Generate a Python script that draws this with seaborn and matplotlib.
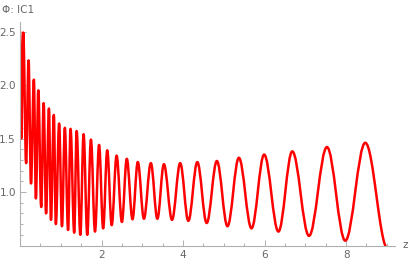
import numpy as np
import pandas as pd
import seaborn as sns
import matplotlib.pyplot as plt
from matplotlib.path import Path
from matplotlib.patches import PathPatch
from matplotlib.ticker import MultipleLocator, FixedLocator

# Extrema of the curve (alternating peak / trough)
peak_z = [0.0, 0.08, 0.21, 0.34, 0.45, 0.58, 0.71, 0.83, 0.96, 1.10, 1.24, 1.39, 1.56,
          1.74, 1.94, 2.14, 2.37, 2.62, 2.89, 3.21, 3.53, 3.93, 4.35, 4.83, 5.37, 5.99,
          6.68, 7.53, 8.47]
peak_y = [2.50, 2.49, 2.23, 2.05, 1.95, 1.83, 1.78, 1.72, 1.64, 1.60, 1.59, 1.57, 1.54,
          1.49, 1.44, 1.39, 1.34, 1.31, 1.28, 1.27, 1.26, 1.27, 1.28, 1.29, 1.32, 1.35,
          1.38, 1.42, 1.46]
trough_z = [0.03, 0.15, 0.27, 0.39, 0.52, 0.64, 0.76, 0.88, 1.03, 1.18, 1.33, 1.48, 1.65,
            1.84, 2.04, 2.25, 2.50, 2.76, 3.04, 3.37, 3.73, 4.13, 4.58, 5.09, 5.68, 6.34,
            7.09, 7.98, 9.02]
trough_y = [1.50, 1.27, 1.08, 0.94, 0.86, 0.80, 0.74, 0.70, 0.68, 0.645, 0.62, 0.60, 0.60,
            0.63, 0.66, 0.69, 0.72, 0.745, 0.75, 0.75, 0.74, 0.73, 0.71, 0.68, 0.66, 0.63,
            0.59, 0.545, 0.47]

x_major = [2, 4, 6, 8]
y_major = [1.0, 1.5, 2.0, 2.5]

sns.set_theme(style="ticks")
plt.rcParams['font.family'] = ['DejaVu Sans']

grey = "#b0b0b0"
label_grey = "#666666"

# merge into one ordered series
df = pd.DataFrame({"z": peak_z + trough_z, "phi": peak_y + trough_y}).sort_values("z")

fig = plt.figure(figsize=(4.11, 2.66), dpi=100)
ax = fig.add_axes([20 / 411, 20.5 / 266, 375 / 411, 223.5 / 266])

# smooth curve through the extrema: cubic segments with flat tangents at each extremum
zs, ys = df["z"].to_numpy(), df["phi"].to_numpy()
verts, codes = [(zs[0], ys[0])], [Path.MOVETO]
for i in range(len(zs) - 1):
    dz = zs[i + 1] - zs[i]
    verts += [(zs[i] + 0.364 * dz, ys[i]), (zs[i + 1] - 0.364 * dz, ys[i + 1]), (zs[i + 1], ys[i + 1])]
    codes += [Path.CURVE4] * 3
ax.add_patch(PathPatch(Path(verts, codes), facecolor="none", edgecolor="#ff0000",
                       lw=1.8, capstyle="round", joinstyle="round"))

ax.set_xlim(0, 9.2)
ax.set_ylim(0.5, 2.589)
sns.despine(ax=ax)
for s in ["left", "bottom"]:
    ax.spines[s].set_color(grey)
    ax.spines[s].set_linewidth(0.8)

ax.xaxis.set_major_locator(FixedLocator(x_major))
ax.xaxis.set_minor_locator(MultipleLocator(0.5))
ax.yaxis.set_major_locator(FixedLocator(y_major))
ax.yaxis.set_minor_locator(MultipleLocator(0.1))
ax.set_xticklabels([str(v) for v in x_major])
ax.set_yticklabels([f"{v:.1f}" for v in y_major])
ax.tick_params(which="both", direction="in", color=grey, labelcolor=label_grey,
               labelsize=7.5, width=0.7)
ax.tick_params(which="major", length=4, pad=3)
ax.tick_params(which="minor", length=2.2)
ax.set_xlabel("")
ax.set_ylabel("")

fig.text(2 / 411, 1 - 10 / 266, "Φ: IC1", color=label_grey, fontsize=7.5, va="center", ha="left")
fig.text(402 / 411, 1 - 245 / 266, "z", color=label_grey, fontsize=7.5, va="center", ha="left")

fig.savefig("out.png", dpi=100)
